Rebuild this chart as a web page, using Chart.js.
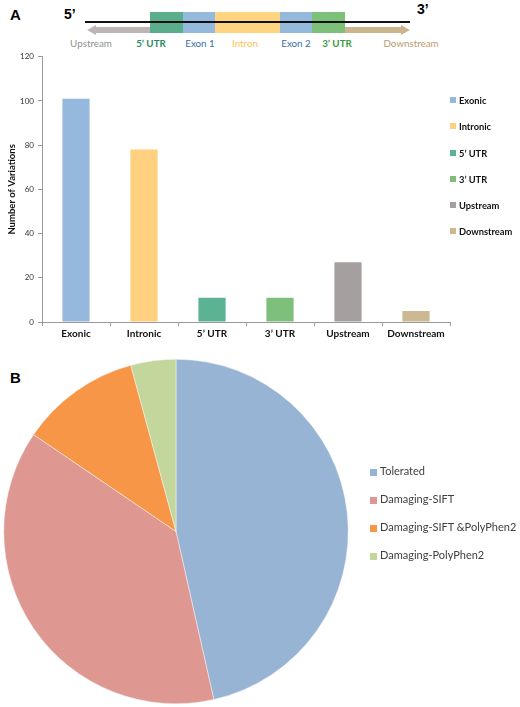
<!DOCTYPE html>
<html>
<head>
<meta charset="utf-8">
<script src="https://cdn.jsdelivr.net/npm/chart.js@4.4.0/dist/chart.umd.min.js"></script>
<style>
  body { margin: 0; background: #fff; font-family: Lato, "Open Sans", sans-serif; }
  #page { position: relative; width: 520px; height: 707px; overflow: hidden; }
  .abs { position: absolute; }
  .panel { font-family: "Liberation Sans", Arial, sans-serif; font-weight: bold; font-size: 15px; color: #000; }
  .prime { font-family: "Liberation Sans", Arial, sans-serif; font-weight: bold; font-size: 14px; }
  .glabel { font-size: 9.8px; top: 37px; transform: translateX(-50%); white-space: nowrap; }
  .legend { position: absolute; margin: 0; padding: 0; list-style: none; }
  .legend li { position: relative; white-space: nowrap; }
  .legend span.box { position: absolute; left: 0; display: inline-block; }
</style>
</head>
<body>
<div id="page">
  <!-- gene structure sketch -->
  <div class="abs panel" style="left:10px;top:6px;">A</div>
  <div class="abs prime" style="left:64px;top:6px;">5’</div>
  <div class="abs prime" style="left:417px;top:1px;">3’</div>
  <div class="abs" style="left:150px;top:12px;width:33px;height:21px;background:#5bae8c;"></div>
  <div class="abs" style="left:183px;top:12px;width:32px;height:21px;background:#95b9dd;"></div>
  <div class="abs" style="left:215px;top:12px;width:65px;height:21px;background:#ffd480;"></div>
  <div class="abs" style="left:280px;top:12px;width:32px;height:21px;background:#95b9dd;"></div>
  <div class="abs" style="left:312px;top:12px;width:33px;height:21px;background:#7cc07a;"></div>
  <div class="abs" style="left:95px;top:27px;width:55px;height:6px;background:#beb5b5;"></div>
  <div class="abs" style="left:87px;top:25px;width:0;height:0;border-top:5px solid transparent;border-bottom:5px solid transparent;border-right:9px solid #beb5b5;"></div>
  <div class="abs" style="left:345px;top:27px;width:56px;height:6px;background:#ccb48e;"></div>
  <div class="abs" style="left:401px;top:25px;width:0;height:0;border-top:5px solid transparent;border-bottom:5px solid transparent;border-left:9px solid #ccb48e;"></div>
  <div class="abs" style="left:85px;top:21px;width:325px;height:2px;background:#111;"></div>
  <div class="abs glabel" style="left:91px;color:#8f8f8f;">Upstream</div>
  <div class="abs glabel" style="left:151px;color:#2b8a5e;font-weight:bold;">5’ UTR</div>
  <div class="abs glabel" style="left:200px;color:#3a6ea5;">Exon 1</div>
  <div class="abs glabel" style="left:245px;color:#ffc24f;">Intron</div>
  <div class="abs glabel" style="left:296px;color:#3a6ea5;">Exon 2</div>
  <div class="abs glabel" style="left:337px;color:#3d9a3d;font-weight:bold;">3’ UTR</div>
  <div class="abs glabel" style="left:411px;color:#b89d6e;">Downstream</div>

  <div class="abs" style="left:0;top:48px;width:520px;height:300px;"><canvas id="bar"></canvas></div>
  <ul id="barLegend" class="legend" style="left:450px;top:95px;"></ul>

  <div class="abs panel" style="left:10px;top:369px;">B</div>
  <div class="abs" style="left:0;top:359px;width:520px;height:345px;"><canvas id="pie"></canvas></div>
  <ul id="pieLegend" class="legend" style="left:370px;top:464px;"></ul>
</div>
<script>
// panel A: variations per region
const regions = ['Exonic', 'Intronic', '5’ UTR', '3’ UTR', 'Upstream', 'Downstream'];
const variationCounts = [101, 78, 11, 11, 27, 5];
const regionColors = ['#95b9dd', '#ffd080', '#5bb394', '#7ec07b', '#a59f9f', '#cdb894'];
const yTicks = [0, 20, 40, 60, 80, 100, 120];

// panel B: functional prediction of exonic variations
const predictions = ['Tolerated', 'Damaging-SIFT', 'Damaging-SIFT &PolyPhen2', 'Damaging-PolyPhen2'];
const predictionCounts = [33, 27, 8, 3];
const predictionColors = ['#98b4d4', '#df9792', '#f79646', '#c3d69b'];

const axisGrey = '#9a9a9a';

const barChart = new Chart(document.getElementById('bar'), {
  type: 'bar',
  data: {
    labels: regions,
    datasets: [{
      data: variationCounts,
      backgroundColor: regionColors,
      borderWidth: 0,
      categoryPercentage: 1,
      barPercentage: 0.4
    }]
  },
  options: {
    responsive: true,
    maintainAspectRatio: false,
    animation: false,
    layout: { padding: { top: 6, right: 70, left: 0, bottom: 0 } },
    plugins: { legend: { display: false }, tooltip: { enabled: false } },
    scales: {
      x: {
        afterFit: (scale) => { scale.height = 26; },
        border: { color: axisGrey, width: 1 },
        grid: { offset: true, drawOnChartArea: false, tickLength: 4, color: axisGrey },
        ticks: { color: '#111', font: { family: 'Lato', size: 10, weight: 'bold' }, padding: 2 }
      },
      y: {
        min: 0,
        max: 120,
        afterFit: (scale) => { scale.width = 42; },
        afterBuildTicks: (scale) => { scale.ticks = yTicks.map(v => ({ value: v })); },
        border: { color: axisGrey, width: 1 },
        grid: { drawOnChartArea: false, tickLength: 4, color: axisGrey },
        ticks: { color: '#333', font: { family: 'Lato', size: 8 }, padding: 4 },
        title: {
          display: true,
          text: 'Number of Variations',
          color: '#111',
          font: { family: 'Lato', size: 9.5, weight: 'bold' },
          padding: { top: 6, bottom: 0 }
        }
      }
    }
  }
});

const pieChart = new Chart(document.getElementById('pie'), {
  type: 'pie',
  data: {
    labels: predictions,
    datasets: [{
      data: predictionCounts,
      backgroundColor: predictionColors,
      borderColor: '#f4f4f4',
      borderWidth: 0.5
    }]
  },
  options: {
    responsive: true,
    maintainAspectRatio: false,
    animation: false,
    layout: { padding: { right: 168 } },
    plugins: { legend: { display: false }, tooltip: { enabled: false } }
  }
});

// html legend: one row per entry, square + text
function addLegendRow(ul, text, color, o) {
  const li = document.createElement('li');
  li.style.cssText = 'height:' + o.step + 'px;line-height:' + o.line + 'px;padding-left:' + o.indent +
    'px;font:' + o.font + ';color:' + o.color + ';';
  const box = document.createElement('span');
  box.className = 'box';
  box.style.cssText = 'width:' + o.box + 'px;height:' + o.box + 'px;top:' + ((o.line - o.box) / 2) +
    'px;background:' + color + ';';
  li.appendChild(box);
  li.appendChild(document.createTextNode(text));
  ul.appendChild(li);
}

const barLegendOpts = { step: 26.3, line: 10, indent: 9, box: 6, font: 'bold 9.3px Lato', color: '#111' };
const barUl = document.getElementById('barLegend');
regions.forEach((r, i) => addLegendRow(barUl, r, regionColors[i], barLegendOpts));

const pieLegendOpts = { step: 28, line: 16, indent: 10, box: 7, font: '11px Lato', color: '#404040' };
const pieUl = document.getElementById('pieLegend');
pieChart.options.plugins.legend.labels.generateLabels(pieChart)
  .forEach(item => addLegendRow(pieUl, item.text, item.fillStyle, pieLegendOpts));
</script>
</body>
</html>
